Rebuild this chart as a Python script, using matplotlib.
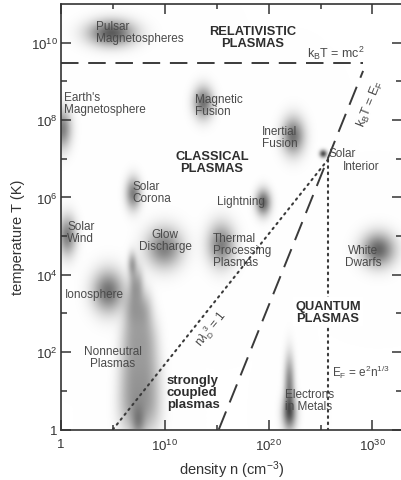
import numpy as np
import matplotlib
matplotlib.use("Agg")
import matplotlib.pyplot as plt

plt.rcParams['font.family'] = ['Liberation Sans', 'DejaVu Sans']
plt.rcParams['mathtext.fontset'] = 'custom'
plt.rcParams['mathtext.rm'] = 'Liberation Sans'
plt.rcParams['mathtext.it'] = 'Liberation Sans:italic'
plt.rcParams['mathtext.bf'] = 'Liberation Sans:bold'

# ---- data (log10 units: density in cm^-3, temperature in K) ----
x_major = [0, 10, 20, 30]
x_major_labels = ['1', r'$10^{10}$', r'$10^{20}$', r'$10^{30}$']
x_minor = [5, 15, 25]
y_major = [0, 2, 4, 6, 8, 10]
y_major_labels = ['1', r'$10^2$', r'$10^4$', r'$10^6$', r'$10^8$', r'$10^{10}$']
y_minor = [1, 3, 5, 7, 9]

# regions: centre log n, centre log T, spread log n, spread log T, darkness
blob_names = ['Pulsar', 'EarthMag', 'MagFusion', 'InertialFusion', 'SolarInterior',
              'SolarCorona', 'Lightning', 'SolarWind', 'GlowDischarge', 'Thermal',
              'WhiteDwarfs', 'Ionosphere',
              'Nonneutral1', 'Nonneutral2', 'Nonneutral3', 'Nonneutral4', 'Nonneutral5',
              'Nonneutral6', 'Nonneutral7',
              'Metals1', 'Metals2']
blob_logn = [4.85, 0.1, 13.68, 22.35, 25.24, 6.94, 19.46, 0.58, 9.92, 15.41, 30.54, 4.53,
             6.84, 7.23, 7.42, 7.51, 7.55, 7.55, 7.42,
             21.97, 21.97]
blob_logT = [10.23, 7.75, 8.43, 7.57, 7.11, 6.08, 5.85, 4.99, 4.68, 4.76, 4.63, 3.55,
             4.27, 3.75, 3.11, 2.34, 1.43, 0.53, 0.14,
             1.17, 0.40]
blob_sn = [1.55, 0.6, 0.65, 0.75, 0.25, 0.5, 0.5, 0.6, 1.2, 0.9, 1.1, 1.05,
           0.3, 0.5, 1.0, 1.35, 1.5, 1.55, 0.45,
           0.34, 0.48]
blob_sT = [0.23, 0.35, 0.28, 0.33, 0.07, 0.28, 0.23, 0.35, 0.36, 0.38, 0.3, 0.38,
           0.21, 0.31, 0.36, 0.46, 0.5, 0.5, 0.3,
           0.52, 0.31]
blob_amp = [0.64, 0.5, 0.55, 0.55, 0.7, 0.5, 0.6, 0.5, 0.5, 0.5, 0.6, 0.55,
            0.3, 0.3, 0.3, 0.3, 0.3, 0.33, 0.25,
            0.45, 0.55]
# edge sharpness across density (2 = plain gaussian)
blob_edge = [2, 2, 2, 2, 2, 2, 2, 2, 2, 2, 2, 2,
             2, 2.5, 3, 3, 3, 3, 2,
             2, 2]

# boundary lines
mc2_logT = 9.48
mc2_logn = [0, 29.1]
ef_logn = [15.2, 29.1]
ef_logT = [0, 9.27]
gamma_logn = [5.0, 25.72]
gamma_logT = [0, 6.98]
ef_coul_logn = [25.72, 25.72]
ef_coul_logT = [6.98, 0]

XMAX, YMAX = 32.8, 11.0

fig = plt.figure(figsize=(4.01, 4.81), dpi=100)
ax = fig.add_axes([61/401, 50.5/481, 340.5/401, 425.5/481])
ax.set_xlim(0, XMAX)
ax.set_ylim(0, YMAX)

# density field of blobs
gx = np.linspace(0, XMAX, 700)
gy = np.linspace(0, YMAX, 900)
GX, GY = np.meshgrid(gx, gy)
field = np.zeros_like(GX)
for cx, cy, sx, sy, a, p in zip(blob_logn, blob_logT, blob_sn, blob_sT, blob_amp, blob_edge):
    field += a * np.exp(-0.5 * np.abs((GX - cx) / sx) ** p - 0.5 * ((GY - cy) / sy) ** 2)
field = np.clip(field, 0, 0.75)
gray = 1 - field
rgb = np.dstack([gray, gray, gray])
ax.imshow(rgb, extent=(0, XMAX, 0, YMAX), origin='lower', aspect='auto',
          interpolation='bilinear', zorder=0)

lc = '#3a3a3a'
ax.plot(mc2_logn, [mc2_logT, mc2_logT], color=lc, lw=1.4, dashes=(9, 5), zorder=2)
ax.plot(ef_logn, ef_logT, color=lc, lw=1.4, dashes=(10, 5), zorder=2)
ax.plot(gamma_logn, gamma_logT, color=lc, lw=1.5, linestyle=(0, (0.8, 2.2)),
        dash_capstyle='round', zorder=2)
ax.plot(ef_coul_logn, ef_coul_logT, color=lc, lw=1.5, linestyle=(0, (0.8, 2.2)),
        dash_capstyle='round', zorder=2)

tc = '#4a4a4a'
bc = '#2e2e2e'
fs = 8.5
kw = dict(color=tc, fontsize=fs, linespacing=1.0, zorder=3)

ax.text(3.37, 10.28, 'Pulsar\nMagnetospheres', ha='left', va='center', **kw)
ax.text(0.29, 8.45, "Earth's\nMagnetosphere", ha='left', va='center', **kw)
ax.text(12.91, 8.4, 'Magnetic\nFusion', ha='left', va='center', **kw)
ax.text(19.36, 7.56, 'Inertial\nFusion', ha='left', va='center', **kw)
ax.text(25.72, 7.14, 'Solar', ha='left', va='center', **kw)
ax.text(27.17, 6.8, 'Interior', ha='left', va='center', **kw)
ax.text(6.84, 6.13, 'Solar\nCorona', ha='left', va='center', **kw)
ax.text(15.03, 5.9, 'Lightning', ha='left', va='center', **kw)
ax.text(0.58, 5.11, 'Solar\nWind', ha='left', va='center', **kw)
ax.text(10.02, 4.9, 'Glow\nDischarge', ha='center', va='center', multialignment='center', **kw)
ax.text(14.64, 4.65, 'Thermal\nProcessing\nPlasmas', ha='left', va='center', **kw)
ax.text(29.09, 4.49, 'White\nDwarfs', ha='center', va='center', multialignment='center', **kw)
ax.text(0.39, 3.5, 'Ionosphere', ha='left', va='center', **kw)
ax.text(5.01, 1.87, 'Nonneutral\nPlasmas', ha='center', va='center', multialignment='center', **kw)
ax.text(21.58, 0.75, 'Electrons\nin Metals', ha='left', va='center', **kw)

bkw = dict(color=bc, fontsize=9.3, fontweight='bold', linespacing=1.0, zorder=3,
           ha='center', va='center', multialignment='center')
ax.text(18.5, 10.15, 'RELATIVISTIC\nPLASMAS', **bkw)
ax.text(14.55, 6.92, 'CLASSICAL\nPLASMAS', **bkw)
ax.text(25.72, 3.05, 'QUANTUM\nPLASMAS',
        bbox=dict(facecolor='white', edgecolor='none', pad=1.5), **bkw)
ax.text(10.21, 0.97, 'strongly\ncoupled\nplasmas', color=bc, fontsize=9.5,
        fontweight='bold', linespacing=1.0, ha='left', va='center',
        multialignment='left', zorder=3)

ax.text(23.7, 9.74, r'k$_\mathrm{B}$T = mc$^2$', ha='left', va='center', color=tc,
        fontsize=9, zorder=3)
ax.text(29.77, 8.45, r'k$_\mathrm{B}$T = E$_\mathrm{F}$', ha='center', va='center',
        rotation=68, rotation_mode='anchor', color=tc, fontsize=9, zorder=3)
ax.text(26.1, 1.51, r'E$_\mathrm{F}$ = e$^2$n$^{1/3}$', ha='left', va='center',
        color=tc, fontsize=8.5, zorder=3)
ax.text(14.45, 2.62, r'n$\lambda_\mathrm{D}^{\ 3}$ = 1', ha='center', va='center',
        rotation=51, rotation_mode='anchor', color=tc, fontsize=8.5, zorder=3)

# axes styling
ax.set_xticks(x_major)
ax.set_xticklabels(x_major_labels)
ax.set_xticks(x_minor, minor=True)
ax.set_yticks(y_major)
ax.set_yticklabels(y_major_labels)
ax.set_yticks(y_minor, minor=True)
ax.tick_params(which='both', direction='in', top=True, right=True, colors='#333333',
               labelsize=9.5, width=1.1)
ax.tick_params(axis='x', which='major', length=7.5, pad=6)
ax.tick_params(axis='x', which='minor', length=3.5)
ax.tick_params(axis='y', which='major', length=7, pad=2.5)
ax.tick_params(axis='y', which='minor', length=4.5)
for s in ax.spines.values():
    s.set_linewidth(1.2)
    s.set_color('#333333')

ax.set_xlabel(r'density n (cm$^{-3}$)', fontsize=10.5, color='#333333', labelpad=4)
ax.set_ylabel('temperature T (K)', fontsize=10.5, color='#333333')
ax.yaxis.set_label_coords(-0.106, 0.455)

fig.savefig('out.png', dpi=100)
